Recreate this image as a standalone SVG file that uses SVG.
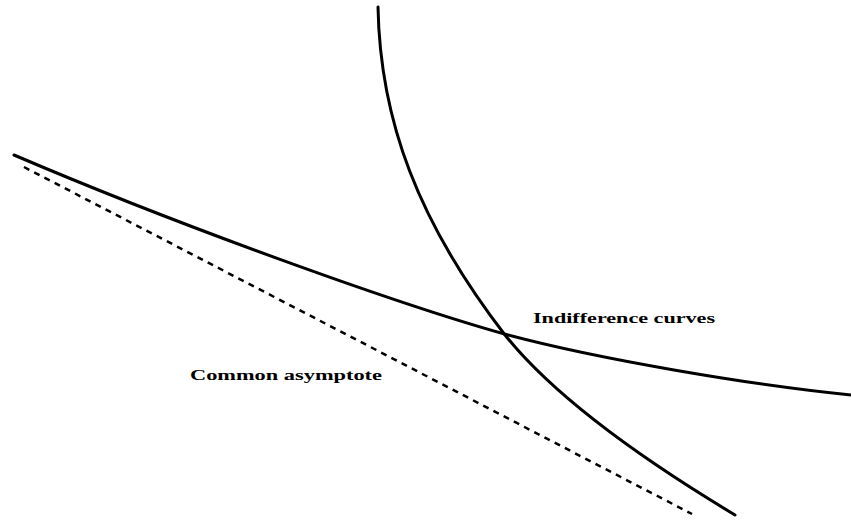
<svg xmlns="http://www.w3.org/2000/svg" width="851" height="521" viewBox="0 0 851 521">
<style>
.curve{fill:none;stroke:#000;stroke-width:3;stroke-linecap:round}
.asym{fill:none;stroke:#000;stroke-width:2.5;stroke-dasharray:6 5.5}
.lbl{font-family:"Liberation Serif","DejaVu Serif",serif;font-weight:bold;font-size:14px;fill:#000}
</style>
<rect width="851" height="521" fill="#fff"/>
<g id="connectors">
<path id="asymptote" class="asym" d="M24,167 L692,514"/>
<path id="curve-flat" class="curve" d="M14,155 C180,226 400,305 508,335 C598,359 750,385 851,395"/>
<path id="curve-steep" class="curve" d="M378,7 C380,120 418,222 505,335 C560,404 660,470 735,515"/>
</g>
<g id="label-indifference"><text class="lbl" x="533" y="323" textLength="182" lengthAdjust="spacingAndGlyphs">Indifference curves</text></g>
<g id="label-asymptote"><text class="lbl" x="190" y="380" textLength="192" lengthAdjust="spacingAndGlyphs">Common asymptote</text></g>
</svg>
